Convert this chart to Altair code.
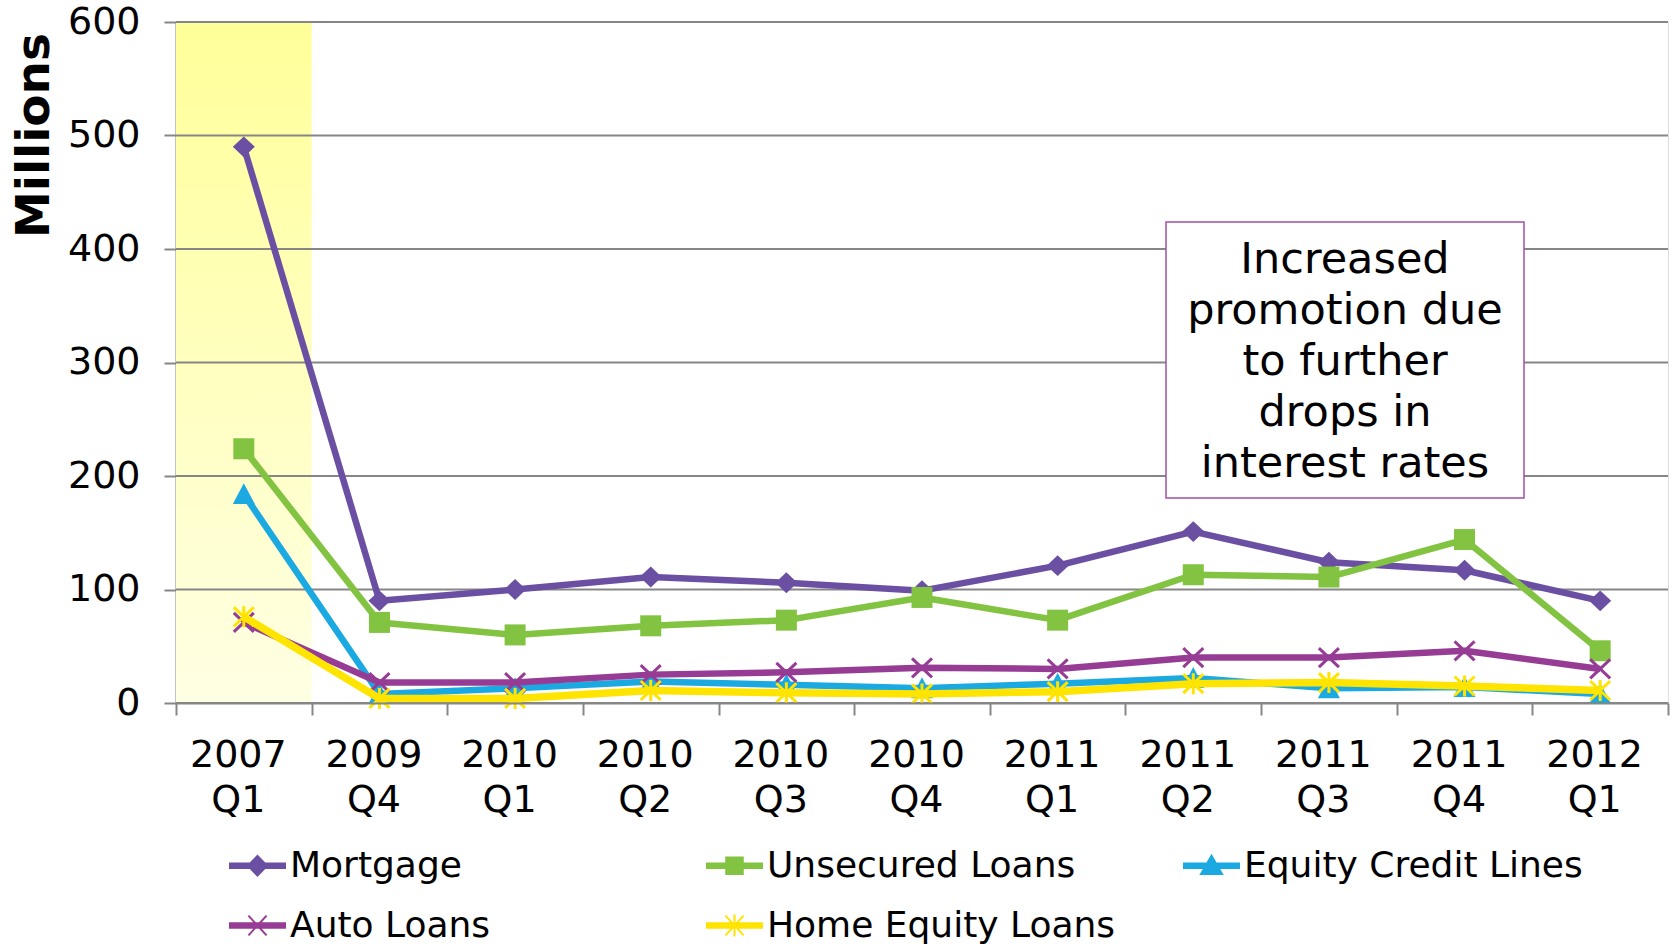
import altair as alt
import pandas as pd

categories = ["2007 Q1", "2009 Q4", "2010 Q1", "2010 Q2", "2010 Q3", "2010 Q4",
              "2011 Q1", "2011 Q2", "2011 Q3", "2011 Q4", "2012 Q1"]
series_names = ["Mortgage", "Unsecured Loans", "Equity Credit Lines", "Auto Loans", "Home Equity Loans"]
mortgage = [490, 90, 100, 111, 106, 99, 121, 151, 124, 117, 90]
unsecured = [224, 71, 60, 68, 73, 93, 73, 113, 111, 144, 46]
equity_credit = [184, 8, 13, 19, 16, 13, 17, 22, 13, 14, 8]
auto_loans = [71, 18, 18, 25, 27, 31, 30, 40, 40, 46, 30]
home_equity = [76, 4, 4, 11, 9, 8, 10, 17, 18, 15, 11]
y_ticks = [0, 100, 200, 300, 400, 500, 600]
highlight = ["2007 Q1"]
note_lines = ["Increased", "promotion due", "to further", "drops in", "interest rates"]

colors = ["#6A4FA3", "#82C341", "#1BA9E1", "#963C94", "#FFE400"]
line_widths = [6.5, 6.5, 6.5, 6.5, 7.5]

values = [mortgage, unsecured, equity_credit, auto_loans, home_equity]
rows = []
for name, vals in zip(series_names, values):
    for c, v in zip(categories, vals):
        rows.append({"quarter": c, "series": name, "value": v})
df = pd.DataFrame(rows)

W, H = 1492, 681
FONT = "DejaVu Sans"
GRID = "#868686"

xscale = alt.Scale(type="band", domain=categories, paddingInner=0, paddingOuter=0)
yscale = alt.Scale(domain=[0, 600], nice=False)

x_axis = alt.Axis(title=None, labelExpr="split(datum.label, ' ')", labelFontSize=38,
                  labelLineHeight=45, labelColor="black", labelFont=FONT, labelAngle=0,
                  labelOffset=-6,
                  tickBand="extent", tickSize=12, tickColor=GRID, tickWidth=2,
                  domainColor=GRID, domainWidth=2, labelPadding=21, grid=False)
y_axis = alt.Axis(values=y_ticks, title="Millions", titleFontSize=47, titleFontWeight="bold",
                  titleFont=FONT, titleColor="black", titleX=-142, titleY=113, titleAngle=270,
                  titleAlign="center", titleBaseline="middle",
                  labelFontSize=38, labelFont=FONT, labelColor="black", labelPadding=24,
                  tickSize=12, tickColor=GRID, tickWidth=2, domainColor=GRID, domainWidth=2,
                  grid=False)

# highlight band
band = alt.Chart(pd.DataFrame({"quarter": highlight})).mark_rect(
    fill=alt.Gradient(gradient="linear",
                      stops=[alt.GradientStop(color="#FFFF99", offset=0),
                             alt.GradientStop(color="#FFFFE4", offset=1)],
                      x1=0, x2=0, y1=0, y2=1)
).encode(
    x=alt.X("quarter:N", scale=xscale, axis=x_axis),
    y=alt.value(0), y2=alt.value(H)
)

grid = alt.Chart(pd.DataFrame({"v": y_ticks})).mark_rule(color=GRID, strokeWidth=2).encode(
    y=alt.Y("v:Q", scale=yscale, axis=y_axis)
)

layers = [band, grid]

marker_specs = [
    dict(shape="M0,-0.95L1,0L0,0.95L-1,0Z", size=484, filled=True, strokeWidth=0),
    dict(shape="square", size=441, filled=True, strokeWidth=0),
    dict(shape="M0,-1L1,0.9L-1,0.9Z", size=484, filled=True, strokeWidth=0),
    dict(shape="M-1,-0.95L1,0.95M-1,0.95L1,-0.95", size=400, filled=False, strokeWidth=3),
    dict(shape="M-1,-0.95L1,0.95M-1,0.95L1,-0.95M0,-1.05L0,1.05", size=400, filled=False, strokeWidth=3),
]

for name, col, lw, spec in zip(series_names, colors, line_widths, marker_specs):
    sub = df[df["series"] == name]
    base = alt.Chart(sub)
    line = base.mark_line(color=col, strokeWidth=lw, strokeJoin="round").encode(
        x=alt.X("quarter:N", scale=xscale, bandPosition=0.5, sort=categories),
        y=alt.Y("value:Q", scale=yscale),
    )
    pt = base.mark_point(color=col, opacity=1, **spec).encode(
        x=alt.X("quarter:N", scale=xscale, bandPosition=0.5, sort=categories),
        y=alt.Y("value:Q", scale=yscale),
    )
    layers += [line, pt]

# legend-only layer (invisible marks; legend symbols = line + marker)
LINE = "M-1,-0.085H1V0.085H-1Z "
legend_paths = [
    LINE + "M0,-0.36L0.345,0L0,0.36L-0.345,0Z",
    LINE + "M-0.3,-0.3H0.3V0.3H-0.3Z",
    LINE + "M0,-0.36L0.38,0.3L-0.38,0.3Z",
    LINE + "M-0.33,-0.36L0.33,0.36M-0.33,0.36L0.33,-0.36",
    LINE + "M-0.33,-0.36L0.33,0.36M-0.33,0.36L0.33,-0.36M0,-0.4L0,0.4",
]
leg = alt.Legend(orient="none", legendX=53, legendY=815, columns=3, direction="horizontal",
                 gridAlign="all", columnPadding=64, rowPadding=13, symbolSize=3025,
                 symbolStrokeWidth=2, symbolOpacity=1, labelFontSize=36, labelFont=FONT,
                 labelColor="black", labelOffset=4, title=None, padding=0, labelLimit=0)
legend_df = df[df["quarter"] == categories[0]]
legend_layer = alt.Chart(legend_df).mark_point(filled=True, opacity=0).encode(
    x=alt.X("quarter:N", scale=xscale, bandPosition=0.5),
    y=alt.Y("value:Q", scale=yscale),
    fill=alt.Fill("series:N", scale=alt.Scale(domain=series_names, range=colors), legend=leg),
    stroke=alt.Stroke("series:N", scale=alt.Scale(domain=series_names, range=colors), legend=leg),
    shape=alt.Shape("series:N", scale=alt.Scale(domain=series_names, range=legend_paths), legend=leg),
)
layers.append(legend_layer)

# annotation box
note_box = alt.Chart(pd.DataFrame({"a": [0]})).mark_rect(
    fill="white", stroke="#A052A8", strokeWidth=1.5
).encode(x=alt.value(990), x2=alt.value(1348), y=alt.value(200), y2=alt.value(476))
note_text = alt.Chart(pd.DataFrame({"a": [0]})).mark_text(
    text=note_lines, fontSize=43, font=FONT, color="black", align="center",
    baseline="alphabetic", lineHeight=51
).encode(x=alt.value(1169), y=alt.value(251))
layers += [note_box, note_text]

chart = alt.layer(*layers).properties(
    width=W, height=H,
    autosize=alt.AutoSizeParams(type="none"),
    padding={"left": 176, "top": 22, "right": 5, "bottom": 243},
).configure_view(stroke=None).configure(background="white")

chart.save("out.html", embed_options={"renderer": "svg", "actions": False})
